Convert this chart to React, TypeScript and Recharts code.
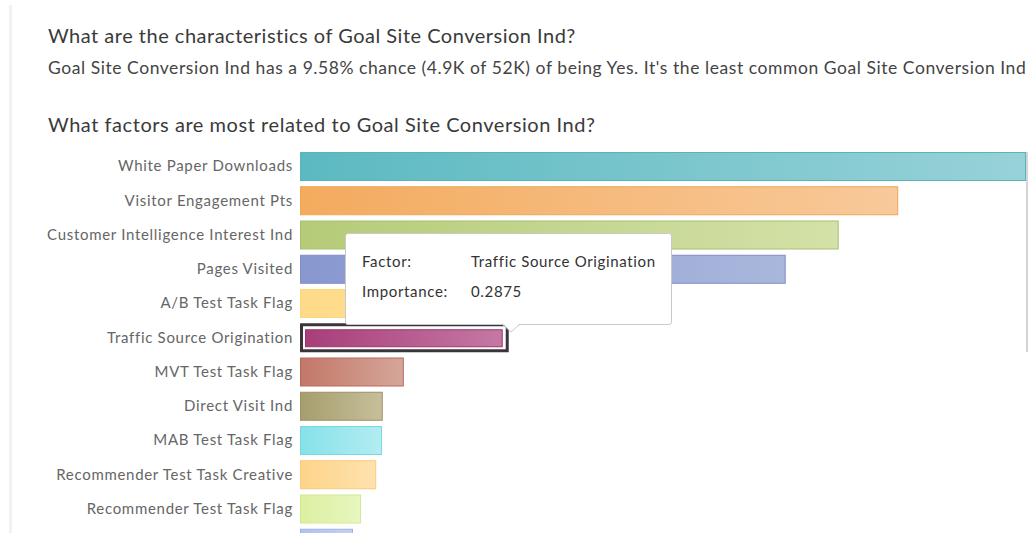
import React from 'react';
import { BarChart, Bar, XAxis, YAxis, Tooltip, Cell } from 'recharts';

// last factor's label falls below the visible area in the reference, so it stays blank
const factors = [
  'White Paper Downloads',
  'Visitor Engagement Pts',
  'Customer Intelligence Interest Ind',
  'Pages Visited',
  'A/B Test Task Flag',
  'Traffic Source Origination',
  'MVT Test Task Flag',
  'Direct Visit Ind',
  'MAB Test Task Flag',
  'Recommender Test Task Creative',
  'Recommender Test Task Flag',
  '',
];
const importance = [1.0, 0.824, 0.742, 0.669, 0.45, 0.2875, 0.143, 0.114, 0.113, 0.105, 0.084, 0.073];

const leftColors = ['#5cb9c1', '#f3ab5e', '#b5cb78', '#8898cf', '#fedb88', '#a83e7a', '#c27868', '#a69e6e', '#86e1e9', '#fed48a', '#dcf0a0', '#b0c0f0'];
const rightColors = ['#97d2d8', '#f8c99a', '#d4e1a8', '#aab7dc', '#fee3a8', '#c479a3', '#d6a69b', '#c6bf9a', '#b2edf1', '#fee2ae', '#e8f6c0', '#c4d0f4'];
const strokes = ['#5ab3b8', '#f0a45a', '#a8c070', '#7d8dc8', '#fdd580', '#9a3570', '#b86a5c', '#9a9262', '#78d8e2', '#fdc97a', '#d2ea90', '#a0b2ea'];

const selected = 5;
const font = 'Lato, "Open Sans", sans-serif';

const data = factors.map((name, i) => ({ name, value: importance[i] }));

const BarShape = (props: any) => {
  const { x, y, width, height, index } = props;
  if (index === selected) {
    return (
      <g>
        <rect x={x + 1.5} y={y + 1.5} width={width - 3} height={height - 3} fill="#fff" stroke="#3b3539" strokeWidth={3} />
        <rect x={x + 5.5} y={y + 6.5} width={width - 12} height={height - 12} fill={`url(#g${index})`} stroke={strokes[index]} strokeWidth={1} />
      </g>
    );
  }
  return (
    <rect x={x + 0.5} y={y + 0.5} width={width - 1} height={height - 1} fill={`url(#g${index})`} stroke={strokes[index]} strokeWidth={1} />
  );
};

const Tip = ({ payload }: any) => {
  const d = payload && payload.length ? payload[0].payload : data[selected];
  const row = { position: 'absolute' as const, lineHeight: '20px', letterSpacing: 0.65, whiteSpace: 'nowrap' as const };
  return (
    <div style={{ position: 'relative', width: 325, height: 90, background: '#fff', border: '1px solid #c9c9c9', borderRadius: 3, fontFamily: font, fontSize: 15, color: '#333' }}>
      <div style={{ ...row, left: 16, top: 17 }}>Factor:</div>
      <div style={{ ...row, left: 125, top: 17 }}>{d.name}</div>
      <div style={{ ...row, left: 16, top: 47 }}>Importance:</div>
      <div style={{ ...row, left: 125, top: 47 }}>{d.value}</div>
      <svg width={22} height={10} style={{ position: 'absolute', left: 156, top: 90, overflow: 'visible' }}>
        <polygon points="0,-1 9,8 18,-1" fill="#fff" />
        <polyline points="0,0 9,8 18,0" fill="none" stroke="#c9c9c9" strokeWidth={1} />
      </svg>
    </div>
  );
};

export default function App() {
  return (
    <div style={{ position: 'absolute', left: 0, top: 0, width: 1034, height: 533, overflow: 'hidden', background: '#fff', fontFamily: font }}>
      <div style={{ position: 'absolute', left: 9, top: 5, width: 3, height: 540, background: '#f1f1f1' }} />
      <div style={{ position: 'absolute', left: 48, top: 23, fontSize: 20, lineHeight: '24px', letterSpacing: 0.5, color: '#3a3a3a', whiteSpace: 'nowrap' }}>
        What are the characteristics of Goal Site Conversion Ind?
      </div>
      <div style={{ position: 'absolute', left: 48, top: 58, fontSize: 17.5, lineHeight: '20px', letterSpacing: 0.56, color: '#444', whiteSpace: 'nowrap' }}>
        Goal Site Conversion Ind has a 9.58% chance (4.9K of 52K) of being Yes. It's the least common Goal Site Conversion Ind
      </div>
      <div style={{ position: 'absolute', left: 48, top: 112, fontSize: 20, lineHeight: '24px', letterSpacing: 0.55, color: '#3a3a3a', whiteSpace: 'nowrap' }}>
        What factors are most related to Goal Site Conversion Ind?
      </div>
      <div style={{ position: 'absolute', left: 0, top: 140 }}>
        <BarChart width={1034} height={420} data={data} layout="vertical" margin={{ top: 9, right: 8, left: 0, bottom: 0 }} barSize={29}>
          <defs>
            {leftColors.map((c, i) => (
              <linearGradient key={i} id={`g${i}`} x1="0" y1="0" x2="1" y2="0">
                <stop offset="0%" stopColor={c} />
                <stop offset="100%" stopColor={rightColors[i]} />
              </linearGradient>
            ))}
          </defs>
          <XAxis type="number" domain={[0, 1]} hide />
          <YAxis
            type="category"
            dataKey="name"
            width={300}
            interval={0}
            axisLine={false}
            tickLine={false}
            tickSize={0}
            tickMargin={7}
            tick={{ fontSize: 15, fill: '#666', fontFamily: font, style: { letterSpacing: 0.7 } }}
          />
          <Tooltip
            active
            defaultIndex={selected}
            position={{ x: 345, y: 93 }}
            cursor={false}
            isAnimationActive={false}
            content={<Tip />}
            wrapperStyle={{ outline: 'none', zIndex: 5 }}
          />
          <Bar dataKey="value" isAnimationActive={false} shape={<BarShape />}>
            {data.map((d, i) => (
              <Cell key={i} fill={`url(#g${i})`} />
            ))}
          </Bar>
        </BarChart>
      </div>
      <div style={{ position: 'absolute', left: 1026, top: 152, width: 2, height: 200, background: '#d4d4d4' }} />
    </div>
  );
}
